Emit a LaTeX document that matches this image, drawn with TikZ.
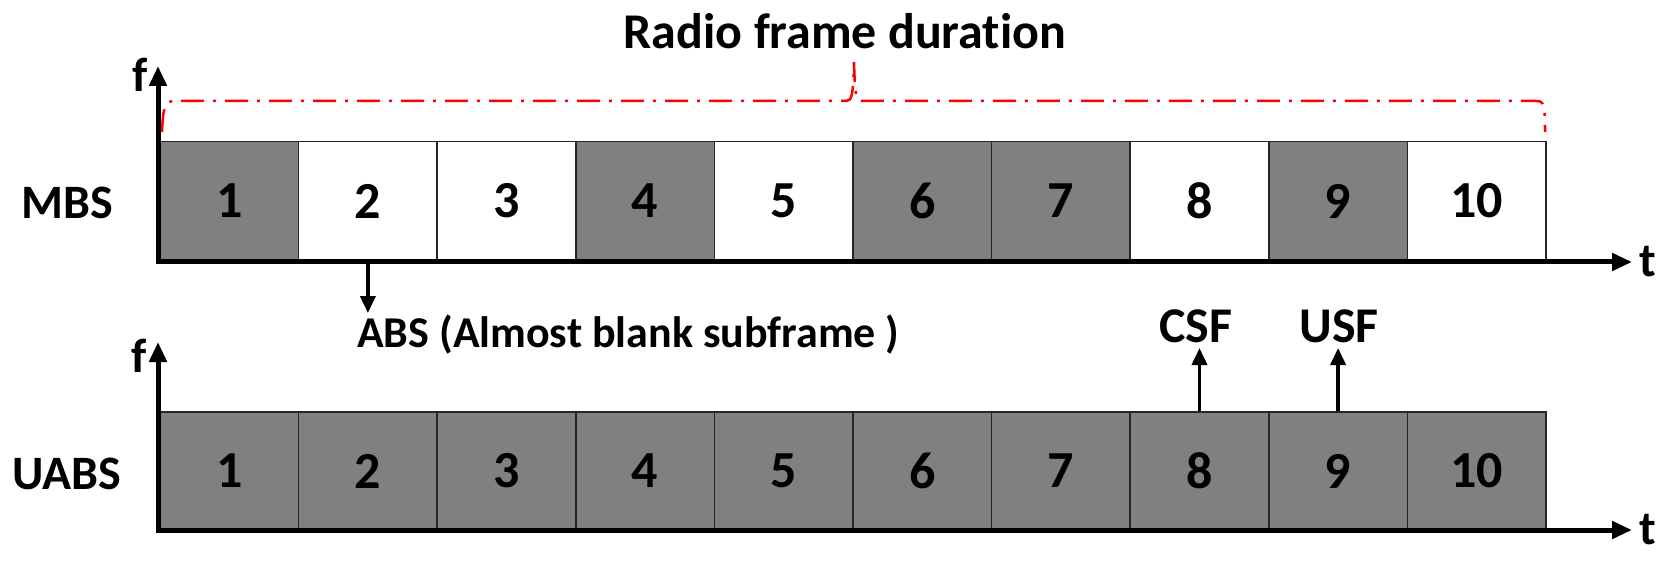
\documentclass[tikz,border=0pt]{standalone}
\usepackage{fontspec}
\setmainfont{Carlito}[Ligatures={NoCommon}]
\usetikzlibrary{arrows.meta}
\definecolor{cellgray}{RGB}{128,128,128}
\definecolor{framered}{RGB}{255,0,0}
\begin{document}
\begin{tikzpicture}[x=1pt,y=-1pt,
  big/.style={font=\fontsize{48}{48}\selectfont\bfseries, inner sep=2pt},
  subbox/.style={draw=black!85, line width=1.6pt, minimum width=138.6pt, minimum height=119pt, inner sep=0pt, font=\fontsize{52}{52}\selectfont\bfseries},
  subdark/.style={subbox, fill=cellgray},
  sublight/.style={subbox, fill=white},
  axisline/.style={line width=5pt, {Triangle[length=20pt,width=17pt]}-{Triangle[length=20pt,width=17pt]}},
  pointer/.style={line width=3.8pt, -{Triangle[length=17pt,width=15pt]}},
  bracestyle/.style={framered, line width=2.5pt, dash pattern=on 23pt off 9pt on 3pt off 9pt}
]
\useasboundingbox (0,0) rectangle (1674,572);

% title and brace
\node[big, font=\fontsize{50}{50}\selectfont\bfseries] (title) at (845,31) {Radio frame duration};
\draw[bracestyle] (162,132) .. controls (163,110) and (164,101) .. (174,101) -- (846,101)
  .. controls (852,101) and (853,96) .. (854,62)
  .. controls (855,96) and (856,101) .. (862,101) -- (1536,101)
  .. controls (1544,101) and (1545,104) .. (1545,132);

% MBS row
\foreach \i/\s in {1/subdark,2/sublight,3/sublight,4/subdark,5/sublight,6/subdark,7/subdark,8/sublight,9/subdark,10/sublight}
  \node[\s] (m\i) at ({160+(\i-0.5)*138.6},201) {\i};

% UABS row
\foreach \i in {1,...,10}
  \node[subdark, minimum height=118pt] (u\i) at ({160+(\i-0.5)*138.6},471) {\i};

% axes
\coordinate (o1) at (158,262);
\coordinate (f1) at (158,66);
\coordinate (t1) at (1632,262);
\draw[axisline] (f1) -- (o1) -- (t1);
\coordinate (o2) at (158,530);
\coordinate (f2) at (158,342);
\coordinate (t2) at (1632,530);
\draw[axisline] (f2) -- (o2) -- (t2);

\node[big] (fa) at (140,75) {f};
\node[big] (ta) at (1648,262) {t};
\node[big] (fb) at (139,356) {f};
\node[big] (tb) at (1648,530) {t};

\node[big] (mbs) at (67,203) {MBS};
\node[big] (uabs) at (67,474) {UABS};

% ABS pointer
\node[big, font=\fontsize{44}{44}\selectfont\bfseries, anchor=base west] (abs) at (355,347) {ABS (Almost blank subframe )};
\draw[pointer] (m2.south) -- (m2.south |- 0,313);

% CSF / USF pointers
\node[big, font=\fontsize{50}{50}\selectfont\bfseries] (csf) at (1196,326) {CSF};
\node[big, font=\fontsize{50}{50}\selectfont\bfseries] (usf) at (1339,326) {USF};
\draw[pointer] (u8.north) -- (u8.north |- 0,348);
\draw[pointer] (u9.north) -- (u9.north |- 0,348);
\end{tikzpicture}
\end{document}
